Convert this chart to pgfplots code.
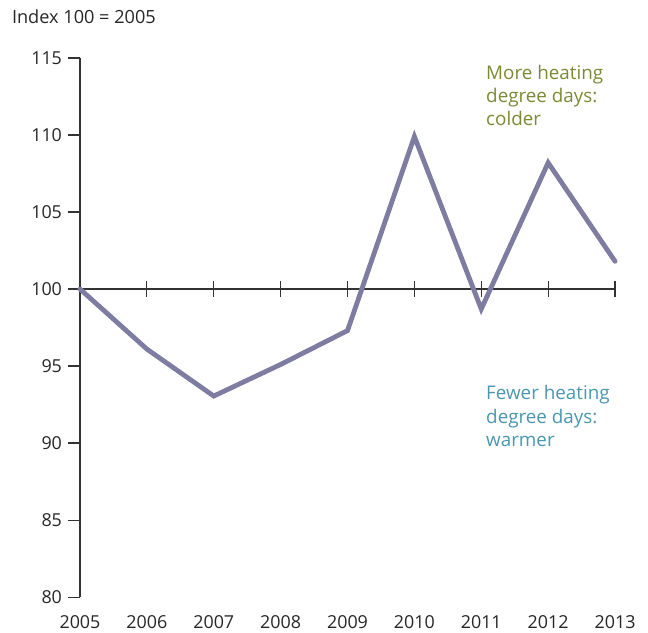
\documentclass[border=0pt]{standalone}
\usepackage{pgfplots}
\pgfplotsset{compat=1.18}
\usepackage{fontspec}
\setmainfont{Open Sans}
\definecolor{linec}{HTML}{7E7CA0}
\definecolor{warmc}{HTML}{7A8A35}
\definecolor{coldc}{HTML}{4A97B0}
\definecolor{axc}{HTML}{333333}
\begin{document}
\begin{tikzpicture}
\begin{axis}[
  scale only axis,
  width=401pt, height=404pt,
  xmin=2005, xmax=2013,
  ymin=80, ymax=115,
  clip=false,
  axis y line*=left,
  axis x line*=bottom,
  x axis line style={draw=none},
  y axis line style={axc, line width=0.8pt},
  xtick={2005,2006,...,2013},
  xticklabels={2005,2006,2007,2008,2009,2010,2011,2012,2013},
  xtick style={draw=none},
  ytick={80,85,...,115},
  tick align=outside,
  major tick length=9pt,
  ytick style={axc, line width=0.8pt},
  /pgf/number format/assume math mode=true,
  /pgf/number format/1000 sep={},
  tick label style={font=\fontsize{13.4}{15}\selectfont, text=black!85},
  xticklabel style={yshift=-1pt},
  yticklabel style={xshift=-1pt},
]
\path (axis cs:2003.804,118.766) rectangle (axis cs:2013.493,77.73);
\addplot[axc, line width=0.8pt, forget plot] coordinates {(2005,100) (2013,100)};
\addplot[only marks, mark=|, mark size=6pt, mark options={axc, line width=0.8pt}, forget plot]
  coordinates {(2006,100) (2007,100) (2008,100) (2009,100) (2010,100) (2011,100) (2012,100) (2013,100)};
\addplot[linec, line width=3.6pt, line join=miter, line cap=round] coordinates {
  (2005,100) (2006,96.1) (2007,93.05) (2008,95.1) (2009,97.3) (2010,109.9) (2011,98.7) (2012,108.2) (2013,101.8)};
\node[anchor=west, inner sep=0pt, font=\fontsize{13.6}{15}\selectfont, text=black!85] at (axis cs:2003.98,117.66) {Index 100 = 2005};
\node[anchor=north west, align=left, inner sep=0pt, font=\fontsize{14.1}{17.4}\selectfont, text=warmc] at (axis cs:2011.07,114.55) {More heating\\degree days:\\colder};
\node[anchor=north west, align=left, inner sep=0pt, font=\fontsize{14.1}{17.4}\selectfont, text=coldc] at (axis cs:2011.07,93.75) {Fewer heating\\degree days:\\warmer};
\end{axis}
\end{tikzpicture}
\end{document}
